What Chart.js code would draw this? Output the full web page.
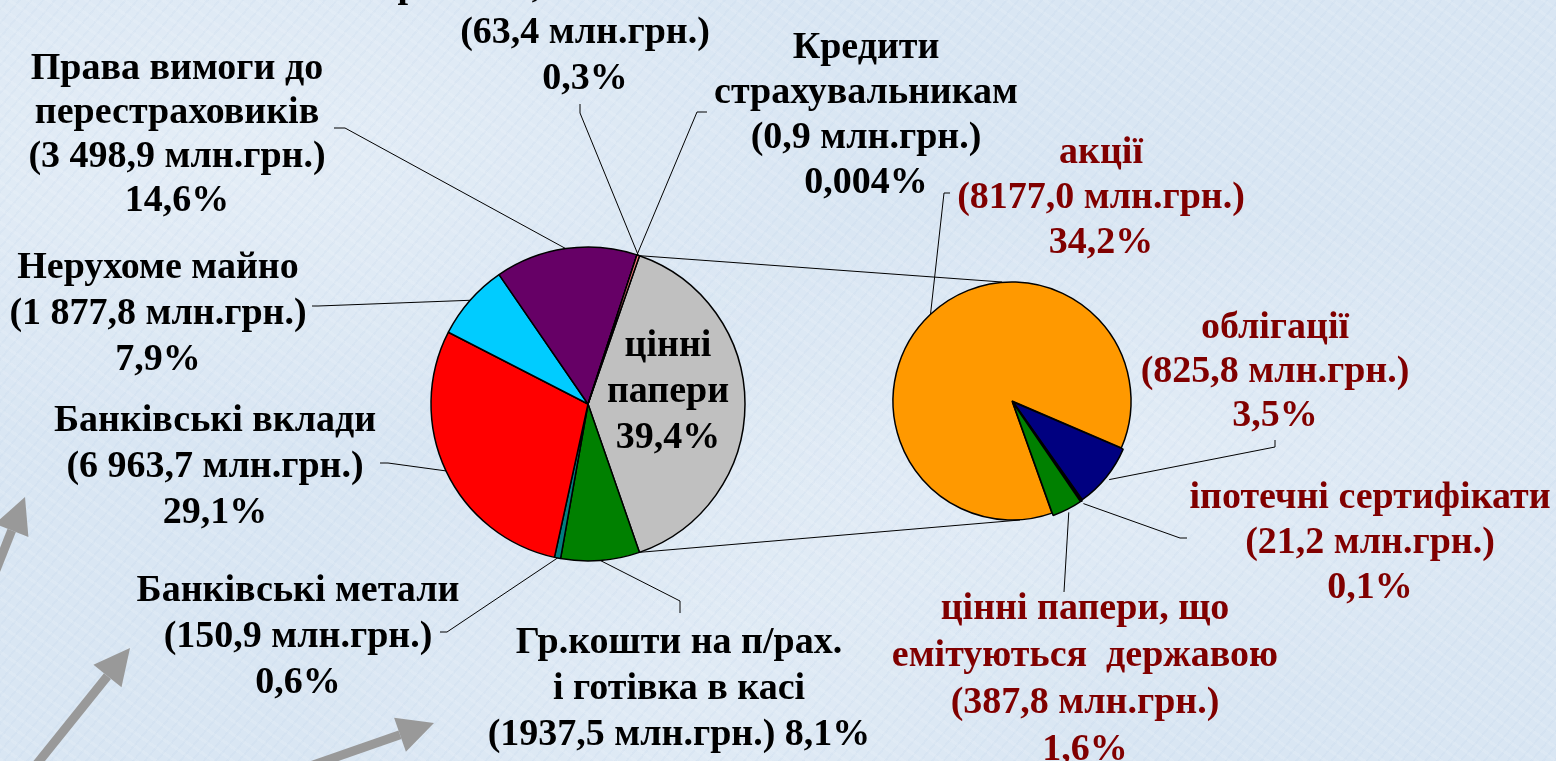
<!DOCTYPE html>
<html lang="uk">
<head>
<meta charset="utf-8">
<title>Структура активів страховиків</title>
<script src="https://cdn.jsdelivr.net/npm/chart.js@4.4.0/dist/chart.umd.min.js"></script>
<style>
  html, body { margin: 0; padding: 0; }
  body {
    width: 1556px; height: 761px; overflow: hidden; position: relative;
    background-color: #d9e6f3;
    background-image:
      repeating-linear-gradient(35deg, rgba(255,255,255,0.10) 0 3px, rgba(255,255,255,0) 3px 11px),
      repeating-linear-gradient(-50deg, rgba(170,195,225,0.10) 0 2px, rgba(170,195,225,0) 2px 9px),
      radial-gradient(ellipse at 15% 20%, rgba(255,255,255,0.30), rgba(255,255,255,0) 35%),
      radial-gradient(ellipse at 70% 60%, rgba(255,255,255,0.25), rgba(255,255,255,0) 40%),
      radial-gradient(ellipse at 45% 90%, rgba(255,255,255,0.20), rgba(255,255,255,0) 35%);
  }
  canvas, svg { position: absolute; left: 0; top: 0; }
  .lbl {
    position: absolute; transform: translateX(-50%);
    font: bold 38px "Liberation Serif", "Times New Roman", serif;
    line-height: 46px; text-align: center; white-space: pre; color: #000;
  }
  .dark { color: #800000; }
</style>
</head>
<body>
<svg id="arrows" width="1556" height="761"></svg>
<canvas id="mainPie" width="1556" height="761"></canvas>
<canvas id="subPie" width="1556" height="761"></canvas>
<div id="labels"></div>
<script>
// main pie (clockwise from the "цінні папери" slice)
const mainNames = ['цінні папери', 'Гр.кошти на п/рах. і готівка в касі', 'Банківські метали',
  'Банківські вклади', 'Нерухоме майно', 'Права вимоги до перестраховиків',
  'Кредити страхувальникам', 'за напрямами, визначеними КМУ'];
const mainValues = [9411.8, 1937.5, 150.9, 6963.7, 1877.8, 3498.9, 0.9, 63.4];
const mainPercents = ['39,4%', '8,1%', '0,6%', '29,1%', '7,9%', '14,6%', '0,004%', '0,3%'];
const mainColors = ['#c0c0c0', '#008000', '#008080', '#ff0000', '#00ccff', '#660066', '#333333', '#ff8080'];

// second pie: breakdown of "цінні папери"
const subNames = ['акції', 'облігації', 'іпотечні сертифікати', 'цінні папери, що емітуються  державою'];
const subValues = [8177.0, 825.8, 21.2, 387.8];
const subPercents = ['34,2%', '3,5%', '0,1%', '1,6%'];
const subColors = ['#ff9900', '#000080', '#000000', '#008000'];

// label layout: centre x, first line centre y, name lines, leader polyline
const mainLayout = [
  {x: 668, y: 343, lines: ['цінні', 'папери'], noValue: true},
  {x: 679, y: 640, lines: ['Гр.кошти на п/рах.', 'і готівка в касі'], join: true, lead: [[680, 601], [680, 613]]},
  {x: 298, y: 588, lines: ['Банківські метали'], lead: [[447, 632], [440, 632]]},
  {x: 215, y: 418, lines: ['Банківські вклади'], sep: true, lead: [[388, 463], [380, 463]]},
  {x: 158, y: 265, lines: ['Нерухоме майно'], sep: true, lead: [[318, 306], [312, 306]]},
  {x: 177, y: 66, lh: 44, lines: ['Права вимоги до', 'перестраховиків'], sep: true, lead: [[345, 128], [334, 128]]},
  {x: 866, y: 45, lh: 45, lines: ['Кредити', 'страхувальникам'], lead: [[697, 112], [707, 112]]},
  {x: 585, y: -16, lines: ['за напрямами, визначеними КМУ'], lead: [[580, 113], [580, 104]]}
];
const subLayout = [
  {x: 1101, y: 150, lh: 45, lines: ['акції'], lead: [[944, 193], [950, 193]]},
  {x: 1275, y: 325, lh: 44, lines: ['облігації'], lead: [[1275, 447], [1275, 440]]},
  {x: 1370, y: 495, lh: 45, lines: ['іпотечні сертифікати'], lead: [[1180, 538], [1187, 538]]},
  {x: 1085, y: 606, lh: 47, lines: ['цінні папери, що', 'емітуються  державою'], lead: [[1064, 592]]}
];

function fmt(v, sep) {
  let s = v.toFixed(1).replace('.', ',');
  if (sep && v >= 1000) {
    s = s.replace(/^(\d+)(\d{3}),/, '$1 $2,');
  }
  return s;
}

function addLabels(layout, values, percents, cls) {
  const box = document.getElementById('labels');
  layout.forEach((l, i) => {
    let lines = l.lines.slice();
    if (l.noValue) {
      lines.push(percents[i]);
    } else if (l.join) {
      lines.push('(' + fmt(values[i], l.sep) + ' млн.грн.) ' + percents[i]);
    } else {
      lines.push('(' + fmt(values[i], l.sep) + ' млн.грн.)');
      lines.push(percents[i]);
    }
    const d = document.createElement('div');
    const lh = l.lh || 46;
    d.className = 'lbl' + (cls ? ' ' + cls : '');
    d.style.left = l.x + 'px';
    d.style.top = (l.y - lh / 2) + 'px';
    d.style.lineHeight = lh + 'px';
    d.textContent = lines.join('\n');
    box.appendChild(d);
  });
}

function arcPoint(arc, angle, extra) {
  const r = arc.outerRadius + (extra || 0);
  return [arc.x + r * Math.cos(angle), arc.y + r * Math.sin(angle)];
}

function leaderPlugin(layout) {
  return {
    id: 'leaders',
    afterDatasetsDraw(chart) {
      const ctx = chart.ctx;
      const arcs = chart.getDatasetMeta(0).data;
      ctx.save();
      ctx.strokeStyle = '#000';
      ctx.lineWidth = 1;
      arcs.forEach((arc, i) => {
        const l = layout[i];
        if (!l.lead) return;
        const mid = (arc.startAngle + arc.endAngle) / 2;
        const off = arc.options.offset || 0;
        const p = arcPoint(arc, mid, off);
        ctx.beginPath();
        ctx.moveTo(p[0], p[1]);
        l.lead.forEach(q => ctx.lineTo(q[0], q[1]));
        ctx.stroke();
      });
      ctx.restore();
    }
  };
}

const common = {
  responsive: false,
  animation: false,
  events: [],
  plugins: { legend: { display: false }, tooltip: { enabled: false } }
};

const mainChart = new Chart(document.getElementById('mainPie'), {
  type: 'pie',
  data: {
    labels: mainNames,
    datasets: [{
      data: mainValues,
      backgroundColor: mainColors,
      borderColor: '#000',
      borderWidth: 1.5
    }]
  },
  options: Object.assign({}, common, {
    rotation: 19.15,
    radius: 157,
    layout: { padding: { left: 430, right: 810, top: 246, bottom: 199 } }
  }),
  plugins: [leaderPlugin(mainLayout)]
});

// connector lines from the split slice of the main pie to the second pie
const connectorPlugin = {
  id: 'connectors',
  beforeDatasetsDraw(chart) {
    const split = mainChart.getDatasetMeta(0).data[0];
    const sub = chart.getDatasetMeta(0).data[0];
    const a = arcPoint(split, split.startAngle);
    const b = arcPoint(split, split.endAngle);
    const ctx = chart.ctx;
    ctx.save();
    ctx.strokeStyle = '#000';
    ctx.lineWidth = 1;
    ctx.beginPath();
    ctx.moveTo(a[0], a[1]);
    ctx.lineTo(sub.x - 10, sub.y - sub.outerRadius);
    ctx.moveTo(b[0], b[1]);
    ctx.lineTo(sub.x + 8, sub.y + sub.outerRadius);
    ctx.stroke();
    ctx.restore();
  }
};

new Chart(document.getElementById('subPie'), {
  type: 'pie',
  data: {
    labels: subNames,
    datasets: [{
      data: subValues,
      backgroundColor: subColors,
      borderColor: '#000',
      borderWidth: 1.5,
      offset: [0, 6, 6, 6]
    }]
  },
  options: Object.assign({}, common, {
    rotation: 160.4,
    radius: 119,
    layout: { padding: { left: 882, right: 414, top: 271, bottom: 230 } }
  }),
  plugins: [connectorPlugin, leaderPlugin(subLayout)]
});

addLabels(mainLayout, mainValues, mainPercents, '');
addLabels(subLayout, subValues, subPercents, 'dark');

// decorative grey arrows at the bottom left
const arrows = [[[-12, 590], [25, 497]], [[28, 775], [130, 648]], [[270, 780], [434, 723]]];
const svg = document.getElementById('arrows');
arrows.forEach(a => {
  const [t, h] = a;
  const dx = h[0] - t[0], dy = h[1] - t[1];
  const len = Math.hypot(dx, dy), ux = dx / len, uy = dy / len;
  const bx = h[0] - ux * 36, by = h[1] - uy * 36;
  const px = -uy * 18, py = ux * 18;
  const line = document.createElementNS('http://www.w3.org/2000/svg', 'line');
  line.setAttribute('x1', t[0]); line.setAttribute('y1', t[1]);
  line.setAttribute('x2', bx); line.setAttribute('y2', by);
  line.setAttribute('stroke', '#999999'); line.setAttribute('stroke-width', '9');
  svg.appendChild(line);
  const head = document.createElementNS('http://www.w3.org/2000/svg', 'polygon');
  head.setAttribute('points', [h, [bx + px, by + py], [bx - px, by - py]].map(p => p.join(',')).join(' '));
  head.setAttribute('fill', '#999999');
  svg.appendChild(head);
});
</script>
</body>
</html>
